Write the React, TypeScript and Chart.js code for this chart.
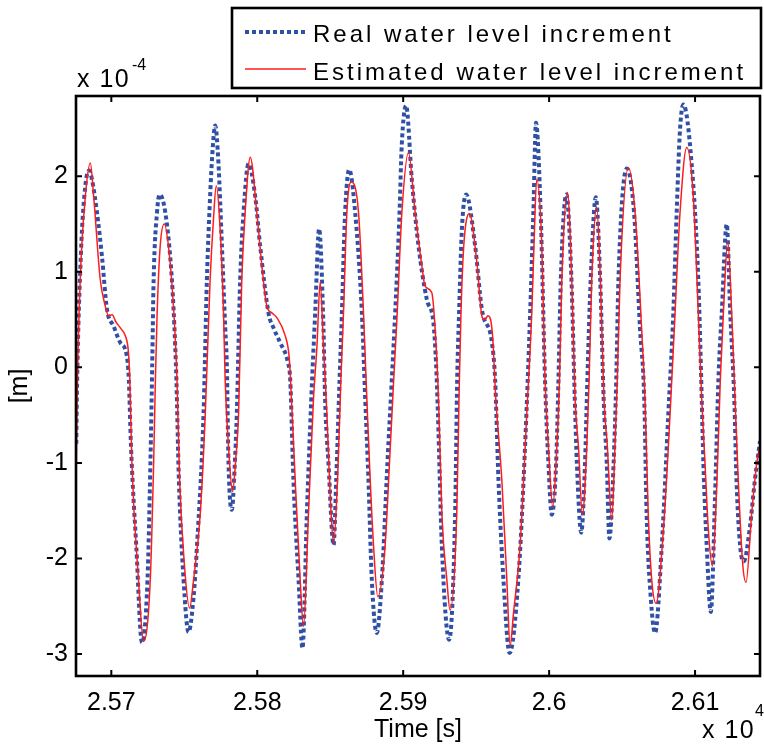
import React, { useEffect, useRef } from 'react';
import { Chart, registerables } from 'chart.js';

Chart.register(...registerables);

// Time axis [s]
const realTime = [
  25676.0, 25676.4, 25679.2, 25682.2, 25684.8, 25686.7, 25690.2, 25693.6, 25697.0, 25701.6,
  25706.1, 25710.5, 25712.0, 25713.5, 25717.1, 25721.0, 25724.8, 25726.8, 25728.0, 25729.0,
  25731.3, 25733.1, 25737.0, 25741.5, 25743.8, 25744.6, 25746.3, 25749.5, 25752.9, 25756.4,
  25758.7, 25763.2, 25765.5, 25767.7, 25769.6, 25771.2, 25773.4, 25775.8, 25778.1, 25779.2,
  25780.3, 25782.6, 25784.5, 25786.0, 25788.3, 25790.6, 25794.0, 25798.6, 25802.0, 25807.7,
  25811.5, 25815.7, 25821.0, 25822.6, 25824.8, 25828.3, 25831.0, 25834.0, 25837.0, 25839.7,
  25842.4, 25845.4, 25846.5, 25848.8, 25852.3, 25854.1, 25856.4, 25858.0, 25860.2, 25863.0,
  25867.1, 25871.7, 25874.0, 25876.2, 25878.5, 25881.9, 25885.4, 25889.2, 25892.2, 25894.5,
  25897.5, 25899.0, 25902.0, 25905.9, 25910.5, 25916.2, 25920.7, 25922.5, 25923.8, 25926.5,
  25931.5, 25935.6, 25937.0, 25938.3, 25940.2, 25943.1, 25949.3, 25953.9, 25960.8, 25963.0,
  25965.3, 25968.7, 25972.9, 25978.9, 25983.5, 25987.0, 25989.2, 25991.0, 25994.2, 25997.2,
  25999.5, 26001.8, 26004.8, 26006.4, 26008.0, 26011.8, 26015.3, 26017.6, 26019.0, 26022.0,
  26024.6, 26026.2, 26028.5, 26032.0, 26035.0, 26037.4, 26039.5, 26041.3, 26044.2, 26046.0,
  26047.5, 26053.2, 26058.2, 26062.3, 26065.2, 26066.8, 26069.6, 26072.6, 26077.2, 26081.7,
  26085.1, 26087.4, 26089.7, 26092.0, 26097.6, 26102.2, 26104.6, 26105.7, 26108.0, 26110.8,
  26113.7, 26116.0, 26118.3, 26121.7, 26124.1, 26126.9, 26128.4, 26130.9, 26133.4, 26137.6,
  26141.0, 26144.5,
];
// Real water level increment [x 1e-4 m]
const realLevel = [
  -0.80, -0.30, 1.20, 1.90, 2.06, 1.97, 1.62, 1.16, 0.61, 0.43,
  0.26, 0.13, -0.13, -0.83, -1.87, -2.88, -2.22, -1.00, 0.00, 0.92,
  1.62, 1.81, 1.62, 0.92, 0.22, -0.13, -1.18, -2.22, -2.77, -2.40,
  -1.87, -0.48, 0.92, 1.79, 2.32, 2.53, 2.14, 1.27, 0.40, 0.00,
  -1.00, -1.49, -1.05, -0.48, 0.92, 1.62, 2.13, 1.79, 1.27, 0.57,
  0.40, 0.26, 0.05, -0.13, -1.18, -2.22, -2.94, -1.53, -0.34, 0.57,
  1.45, 0.40, -0.34, -1.00, -1.86, -1.18, -0.13, 0.57, 1.62, 2.07,
  1.62, 0.57, -0.34, -1.18, -2.22, -2.78, -2.22, -1.00, -0.13, 0.57,
  1.62, 2.32, 2.74, 1.97, 1.27, 0.71, 0.47, 0.05, -0.48, -1.87,
  -2.85, -1.53, -0.13, 0.57, 1.44, 1.81, 1.27, 0.61, 0.26, -0.13,
  -1.18, -2.22, -2.99, -2.22, -0.83, 0.57, 1.62, 2.56, 1.62, -0.13,
  -1.00, -1.54, -1.00, -0.13, 0.92, 1.81, 0.92, -0.34, -1.00, -1.73,
  -1.00, -0.13, 0.92, 1.78, 0.92, -0.34, -1.00, -1.79, -1.00, -0.13,
  0.92, 2.08, 1.62, 0.40, -0.34, -1.53, -2.40, -2.78, -1.87, -0.48,
  0.57, 1.62, 2.49, 2.75, 2.14, 0.92, -0.34, -1.00, -1.87, -2.56,
  -1.35, -0.13, 0.57, 1.50, 0.57, -0.34, -1.18, -1.87, -2.03, -1.67,
  -1.18, -0.77,
];

const estTime = [
  25676.0, 25676.6, 25678.7, 25682.2, 25685.6, 25687.9, 25692.4, 25695.9, 25698.1, 25700.6,
  25703.0, 25706.3, 25709.6, 25711.6, 25712.6, 25714.1, 25718.6, 25722.1, 25726.7, 25729.0,
  25730.2, 25731.4, 25733.5, 25736.3, 25740.3, 25743.5, 25745.0, 25746.8, 25750.0, 25753.6,
  25756.4, 25761.0, 25764.4, 25767.7, 25770.0, 25771.9, 25774.6, 25776.9, 25778.0, 25780.3,
  25783.1, 25785.3, 25787.2, 25789.4, 25791.7, 25795.2, 25799.7, 25803.2, 25806.6, 25810.0,
  25813.4, 25819.2, 25821.8, 25822.8, 25826.0, 25829.4, 25831.7, 25835.1, 25838.5, 25840.9,
  25843.1, 25845.4, 25847.7, 25850.0, 25852.3, 25855.0, 25857.3, 25859.1, 25861.4, 25864.4,
  25869.4, 25872.8, 25875.1, 25877.4, 25879.7, 25882.6, 25887.6, 25890.6, 25893.5, 25895.9,
  25899.1, 25903.6, 25908.2, 25912.8, 25915.0, 25919.6, 25921.9, 25924.2, 25926.5, 25929.9,
  25932.1, 25936.7, 25938.5, 25939.6, 25941.5, 25945.4, 25950.5, 25954.2, 25956.0, 25958.1,
  25961.1, 25963.5, 25967.6, 25971.0, 25973.3, 25975.6, 25980.1, 25984.7, 25988.1, 25989.6,
  25991.5, 25995.0, 25997.2, 25999.5, 26002.5, 26005.3, 26007.1, 26008.7, 26012.5, 26015.5,
  26017.8, 26020.1, 26022.8, 26025.8, 26027.4, 26029.2, 26032.6, 26035.1, 26037.6, 26039.9,
  26042.9, 26045.1, 26046.7, 26048.6, 26054.3, 26058.9, 26063.4, 26065.7, 26067.9, 26070.3,
  26073.3, 26078.3, 26082.9, 26086.3, 26089.7, 26094.3, 26098.8, 26102.2, 26104.6, 26106.8,
  26109.1, 26111.9, 26115.0, 26117.3, 26119.4, 26122.4, 26125.1, 26127.4, 26129.6, 26132.6,
  26134.9, 26138.8, 26142.3, 26144.5,
];
// Estimated water level increment [x 1e-4 m]
const estLevel = [
  -1.04, -0.30, 0.92, 1.79, 2.14, 1.79, 0.92, 0.64, 0.54, 0.55,
  0.48, 0.41, 0.33, 0.18, -0.10, -1.00, -2.22, -2.87, -2.22, -1.00,
  -0.13, 0.57, 1.27, 1.50, 1.10, 0.40, -0.13, -1.18, -2.05, -2.52,
  -2.22, -1.52, -0.48, 0.92, 1.55, 1.90, 1.44, 0.57, -0.13, -0.83,
  -1.30, -0.95, -0.48, 0.92, 1.62, 2.20, 1.62, 1.06, 0.64, 0.57,
  0.52, 0.33, 0.12, -0.13, -1.18, -2.22, -2.71, -1.53, -0.34, 0.22,
  0.89, 0.22, -0.48, -1.35, -1.84, -1.18, -0.13, 0.57, 1.62, 1.94,
  1.62, 0.57, -0.34, -1.18, -1.87, -2.40, -1.87, -1.00, -0.13, 0.57,
  1.62, 2.25, 1.62, 1.06, 0.85, 0.78, 0.40, -0.34, -1.53, -2.22,
  -2.54, -1.53, -0.13, 0.57, 1.27, 1.61, 1.10, 0.52, 0.50, 0.54,
  0.36, -0.34, -1.18, -2.22, -2.91, -2.57, -1.87, -0.48, 0.57, 1.27,
  1.97, 1.27, -0.13, -0.83, -1.46, -0.83, -0.13, 0.92, 1.83, 0.92,
  -0.34, -0.83, -1.54, -0.83, -0.13, 0.92, 1.68, 0.92, -0.34, -0.83,
  -1.60, -0.83, -0.13, 0.92, 2.09, 1.62, 0.40, -0.34, -1.53, -2.22,
  -2.47, -1.70, -0.48, 0.57, 1.62, 2.30, 1.79, 0.57, -0.34, -1.00,
  -1.70, -2.08, -1.18, -0.13, 0.57, 1.32, 0.57, -0.34, -1.18, -2.05,
  -2.25, -1.53, -1.00, -0.81,
];

const seriesNames = ['Real water level increment', 'Estimated water level increment'];
const xTickValues = [25700, 25800, 25900, 26000, 26100];
const xTickLabels = ['2.57', '2.58', '2.59', '2.6', '2.61'];
const yTickValues = [-3, -2, -1, 0, 1, 2];
const yTickLabels = ['-3', '-2', '-1', '0', '1', '2'];
const xLimits = [25675.8, 26144.5];
const yLimits = [-3.23, 2.84];
const xAxisTitle = 'Time [s]';
const yAxisTitle = '[m]';
const xExponent = '4';
const yExponent = '-4';

const FONT = '"Liberation Sans", Arial, sans-serif';
const BLUE = '#3050a6';
const RED = '#ff1c1c';

const matlabFrame = {
  id: 'matlabFrame',
  afterDraw(chart: any) {
    const { ctx, chartArea: a, scales } = chart;
    ctx.save();
    ctx.strokeStyle = '#000';
    ctx.lineWidth = 2;
    const tl = 6;
    ctx.beginPath();
    xTickValues.forEach((v) => {
      const px = scales.x.getPixelForValue(v);
      ctx.moveTo(px, a.bottom);
      ctx.lineTo(px, a.bottom - tl);
      ctx.moveTo(px, a.top);
      ctx.lineTo(px, a.top + tl);
    });
    yTickValues.forEach((v) => {
      const py = scales.y.getPixelForValue(v);
      ctx.moveTo(a.left, py);
      ctx.lineTo(a.left + tl, py);
      ctx.moveTo(a.right, py);
      ctx.lineTo(a.right - tl, py);
    });
    ctx.stroke();
    ctx.lineWidth = 2.6;
    ctx.strokeRect(a.left, a.top, a.right - a.left, a.bottom - a.top);

    // exponent labels
    ctx.fillStyle = '#000';
    ctx.textAlign = 'left';
    ctx.textBaseline = 'alphabetic';
    (ctx as any).letterSpacing = '1.5px';
    ctx.font = `25px ${FONT}`;
    ctx.fillText('x 10', 77, 87);
    ctx.fillText('x 10', 702, 738);
    ctx.font = `16px ${FONT}`;
    (ctx as any).letterSpacing = '0px';
    ctx.fillText(yExponent, 132, 70);
    ctx.fillText(xExponent, 755, 716);

    // legend
    const lx = 232, ly = 8, lw = 529, lh = 80;
    ctx.fillStyle = '#fff';
    ctx.fillRect(lx, ly, lw, lh);
    ctx.lineWidth = 2.6;
    ctx.strokeStyle = '#000';
    ctx.strokeRect(lx, ly, lw, lh);

    ctx.save();
    ctx.strokeStyle = BLUE;
    ctx.lineWidth = 4;
    ctx.setLineDash([4, 3]);
    ctx.beginPath();
    ctx.moveTo(245, 32);
    ctx.lineTo(306, 32);
    ctx.stroke();
    ctx.restore();

    ctx.strokeStyle = RED;
    ctx.lineWidth = 1.5;
    ctx.beginPath();
    ctx.moveTo(245, 69);
    ctx.lineTo(306, 69);
    ctx.stroke();

    ctx.fillStyle = '#000';
    ctx.font = `24px ${FONT}`;
    (ctx as any).letterSpacing = '3px';
    ctx.fillText(seriesNames[0], 313, 42);
    ctx.fillText(seriesNames[1], 313, 80);
    (ctx as any).letterSpacing = '0px';
    ctx.restore();
  },
};

export default function App() {
  const ref = useRef<HTMLCanvasElement | null>(null);

  useEffect(() => {
    if (!ref.current) return;
    const realData = realTime.map((t, i) => ({ x: t, y: realLevel[i] }));
    const estData = estTime.map((t, i) => ({ x: t, y: estLevel[i] }));
    const chart = new Chart(ref.current, {
      type: 'line',
      data: {
        datasets: [
          {
            label: seriesNames[0],
            data: realData,
            borderColor: BLUE,
            borderWidth: 4,
            borderDash: [4, 3],
            borderCapStyle: 'butt',
            pointRadius: 0,
            cubicInterpolationMode: 'monotone',
            fill: false,
            order: 2,
          },
          {
            label: seriesNames[1],
            data: estData,
            borderColor: RED,
            borderWidth: 1.5,
            pointRadius: 0,
            cubicInterpolationMode: 'monotone',
            fill: false,
            order: 1,
          },
        ],
      },
      options: {
        responsive: false,
        animation: false,
        events: [],
        layout: { padding: { left: 0, top: 96, right: 4, bottom: 0 } },
        plugins: { legend: { display: false }, tooltip: { enabled: false } },
        scales: {
          x: {
            type: 'linear',
            min: xLimits[0],
            max: xLimits[1],
            afterBuildTicks: (s: any) => {
              s.ticks = xTickValues.map((v) => ({ value: v }));
            },
            afterFit: (s: any) => {
              s.height = 69;
            },
            grid: { display: false, drawTicks: false },
            border: { display: false },
            ticks: {
              autoSkip: false,
              maxRotation: 0,
              padding: 12,
              color: '#000',
              font: { family: FONT, size: 25 },
              callback: (v: any) => {
                const i = xTickValues.indexOf(Number(v));
                return i >= 0 ? xTickLabels[i] : '';
              },
            },
            title: {
              display: true,
              text: xAxisTitle,
              color: '#000',
              font: { family: FONT, size: 25 },
              padding: { top: 0, bottom: 0 },
            },
          },
          y: {
            type: 'linear',
            min: yLimits[0],
            max: yLimits[1],
            afterBuildTicks: (s: any) => {
              s.ticks = yTickValues.map((v) => ({ value: v }));
            },
            afterFit: (s: any) => {
              s.width = 76;
            },
            grid: { display: false, drawTicks: false },
            border: { display: false },
            ticks: {
              padding: 8,
              color: '#000',
              font: { family: FONT, size: 25 },
              callback: (v: any) => {
                const i = yTickValues.indexOf(Number(v));
                return i >= 0 ? yTickLabels[i] : '';
              },
            },
            title: {
              display: true,
              text: yAxisTitle,
              color: '#000',
              font: { family: FONT, size: 25 },
              padding: { top: 5, bottom: 0 },
            },
          },
        },
      },
      plugins: [matlabFrame],
    });
    return () => chart.destroy();
  }, []);

  return (
    <div style={{ position: 'fixed', left: 0, top: 0, width: 764, height: 745, background: '#fff' }}>
      <canvas ref={ref} width={764} height={745} style={{ width: 764, height: 745, display: 'block' }} />
    </div>
  );
}
